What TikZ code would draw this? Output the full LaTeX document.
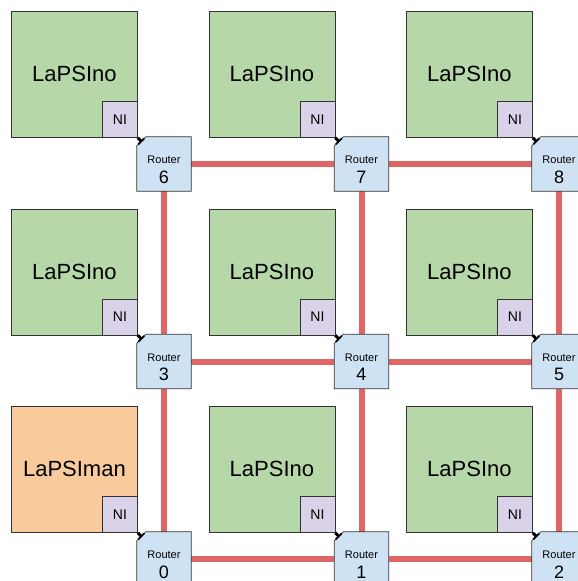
\documentclass[tikz,border=0pt]{standalone}
\usepackage{fontspec}
\setmainfont{Liberation Sans}
\definecolor{pegreen}{HTML}{B6D7A8}
\definecolor{peorange}{HTML}{F9CB9C}
\definecolor{nipurple}{HTML}{D9D2E9}
\definecolor{routerblue}{HTML}{CFE2F3}
\definecolor{linkred}{HTML}{E06666}
\definecolor{edgegray}{HTML}{333333}
\tikzset{
  pebox/.style={draw=edgegray, line width=0.8pt, fill=pegreen, minimum width=126pt, minimum height=126pt, inner sep=0pt, anchor=north west, font=\fontsize{22}{24}\selectfont},
  manbox/.style={pebox, fill=peorange},
  nibox/.style={draw=edgegray, line width=0.8pt, fill=nipurple, minimum width=35pt, minimum height=36pt, inner sep=0pt, anchor=south east, font=\fontsize{14}{16}\selectfont},
  routerbox/.style={rectangle, minimum width=54pt, minimum height=54pt, inner sep=0pt},
  routerface/.style={draw=edgegray, line width=0.8pt, fill=routerblue},
  rlabel/.style={font=\fontsize{11}{12}\selectfont, inner sep=0pt},
  rnum/.style={font=\fontsize{18}{18}\selectfont, inner sep=0pt},
  link/.style={draw=linkred, line width=6pt},
  niwire/.style={draw=black, line width=3pt},
  portbar/.style={draw=black, line width=1.8pt}
}
\begin{document}
\begin{tikzpicture}[x=1pt, y=-1pt]
\useasboundingbox (0,0) rectangle (578,581);
% router placeholders (named positions)
\foreach \i in {0,1,2}{
  \foreach \j in {0,1,2}{
    \pgfmathtruncatemacro{\n}{3*(2-\j)+\i}
    \node[routerbox] (r\n) at ({164+197.5*\i},{164+197.5*\j}) {};
  }
}
% mesh links between neighbouring routers
\draw[link] (r6) -- (r7) -- (r8);
\draw[link] (r3) -- (r4) -- (r5);
\draw[link] (r0) -- (r1) -- (r2);
\draw[link] (r6) -- (r3) -- (r0);
\draw[link] (r7) -- (r4) -- (r1);
\draw[link] (r8) -- (r5) -- (r2);
% processing elements, network interfaces and routers
\foreach \i in {0,1,2}{
  \foreach \j in {0,1,2}{
    \pgfmathtruncatemacro{\n}{3*(2-\j)+\i}
    \ifnum\n=0
      \node[manbox] (pe\n) at ({11+197.5*\i},{11+197.5*\j}) {LaPSIman};
    \else
      \node[pebox] (pe\n) at ({11+197.5*\i},{11+197.5*\j}) {LaPSIno};
    \fi
    \node[nibox] (ni\n) at (pe\n.south east) {NI};
    % router body with its chamfered top-left corner
    \draw[routerface] ([yshift=-9pt]r\n.north west) -- ([xshift=9pt]r\n.north west)
      -- (r\n.north east) -- (r\n.south east) -- (r\n.south west) -- cycle;
    \coordinate (c\n) at ([xshift=4.5pt,yshift=-4.5pt]r\n.north west);
    \draw[portbar] ([xshift=1.5pt,yshift=-7.5pt]r\n.north west) -- ([xshift=7.5pt,yshift=-1.5pt]r\n.north west);
    \node[rlabel] at ([yshift=4pt]r\n.center) {Router};
    \node[rnum] at ([yshift=-13pt]r\n.center) {\n};
    \draw[niwire] (ni\n.south east) -- (c\n);
  }
}
\end{tikzpicture}
\end{document}
